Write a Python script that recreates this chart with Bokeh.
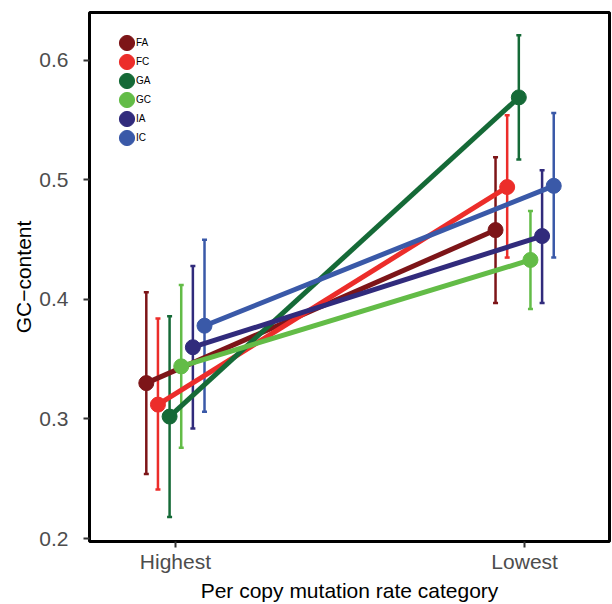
from bokeh.plotting import figure
from bokeh.models import (Range1d, FixedTicker, Whisker, TeeHead, ColumnDataSource,
                          Legend, LegendItem)
from bokeh.embed import file_html
from bokeh.resources import INLINE

# Mutation-rate categories on the x axis
categories = ["Highest", "Lowest"]

# Groups, one line each
groups = ["FA", "FC", "GA", "GC", "IA", "IC"]
colors = ["#7D1518", "#EC2D2A", "#156A37", "#63BC47", "#312B7C", "#3A59A8"]

# Mean GC-content and interval bounds per group, in category order
mean_highest = [0.330, 0.312, 0.302, 0.344, 0.360, 0.378]
lower_highest = [0.254, 0.241, 0.218, 0.276, 0.292, 0.306]
upper_highest = [0.406, 0.384, 0.386, 0.412, 0.428, 0.450]

mean_lowest = [0.458, 0.494, 0.569, 0.433, 0.453, 0.495]
lower_lowest = [0.397, 0.435, 0.517, 0.392, 0.397, 0.435]
upper_lowest = [0.519, 0.554, 0.621, 0.474, 0.508, 0.556]

y_ticks = [0.2, 0.3, 0.4, 0.5, 0.6]

FONT = "Liberation Sans"
DODGE = 0.2  # total dodge width shared by the groups

p = figure(width=612, height=604, output_backend="svg", toolbar_location=None,
           x_range=Range1d(0.754, 2.243), y_range=Range1d(0.1975, 0.64),
           min_border_left=89, min_border_right=3, min_border_top=12,
           min_border_bottom=61)

p.background_fill_color = "white"
p.border_fill_color = "white"
p.outline_line_color = "black"
p.outline_line_width = 3
p.xgrid.visible = False
p.ygrid.visible = False

n = len(groups)
line_data = []
for i, g in enumerate(groups):
    off = (i - (n - 1) / 2) * DODGE / n
    xs = [k + 1 + off for k in range(len(categories))]
    ys = [mean_highest[i], mean_lowest[i]]
    lo = [lower_highest[i], lower_lowest[i]]
    hi = [upper_highest[i], upper_lowest[i]]
    src = ColumnDataSource(dict(x=xs, y=ys, lower=lo, upper=hi))
    line_data.append((src, colors[i], g))

# error bars beneath everything
for src, c, g in line_data:
    w = Whisker(source=src, base="x", lower="lower", upper="upper",
                dimension="height", line_color=c, line_width=2.5, level="underlay",
                lower_head=TeeHead(size=5, line_color=c, line_width=2.5),
                upper_head=TeeHead(size=5, line_color=c, line_width=2.5))
    p.add_layout(w)

# connecting lines
for src, c, g in line_data:
    p.line("x", "y", source=src, line_color=c, line_width=5)

# points
for src, c, g in line_data:
    p.scatter("x", "y", source=src, size=15, fill_color=c, line_color=c)

# legend keys: off-canvas round ellipses give filled dots in the key
nan = float("nan")
keys = []
for src, c, g in line_data:
    k = p.ellipse(x=[nan], y=[nan], width=15, height=15, width_units="screen",
                  height_units="screen", fill_color=c, line_color=c)
    keys.append(LegendItem(label=g, renderers=[k]))

legend = Legend(items=keys, location=(28, 394), glyph_width=19, glyph_height=19,
                spacing=0, label_standoff=0, padding=0, margin=0,
                border_line_color=None, background_fill_alpha=0,
                label_text_font=FONT, label_text_font_size="10px",
                label_text_color="black", label_height=19)
p.add_layout(legend)

# axes
p.xaxis.ticker = FixedTicker(ticks=[1, 2])
p.xaxis.major_label_overrides = {1: categories[0], 2: categories[1]}
p.yaxis.ticker = FixedTicker(ticks=y_ticks)
p.xaxis.axis_label = "Per copy mutation rate category"
p.yaxis.axis_label = "GC\u2212content"

for ax in (p.xaxis[0], p.yaxis[0]):
    ax.axis_line_color = None
    ax.major_tick_line_color = "#333333"
    ax.major_tick_line_width = 2
    ax.major_tick_out = 6
    ax.major_tick_in = 0
    ax.minor_tick_line_color = None
    ax.major_label_text_font = FONT
    ax.major_label_text_font_size = "21px"
    ax.major_label_text_color = "#4D4D4D"
    ax.axis_label_text_font = FONT
    ax.axis_label_text_font_size = "21px"
    ax.axis_label_text_font_style = "normal"
    ax.axis_label_text_color = "black"

p.xaxis.major_label_standoff = 2
p.xaxis.axis_label_standoff = 3
p.yaxis.major_label_standoff = 15
p.yaxis.axis_label_standoff = 1

open("out.html", "w").write(file_html(p, INLINE))
